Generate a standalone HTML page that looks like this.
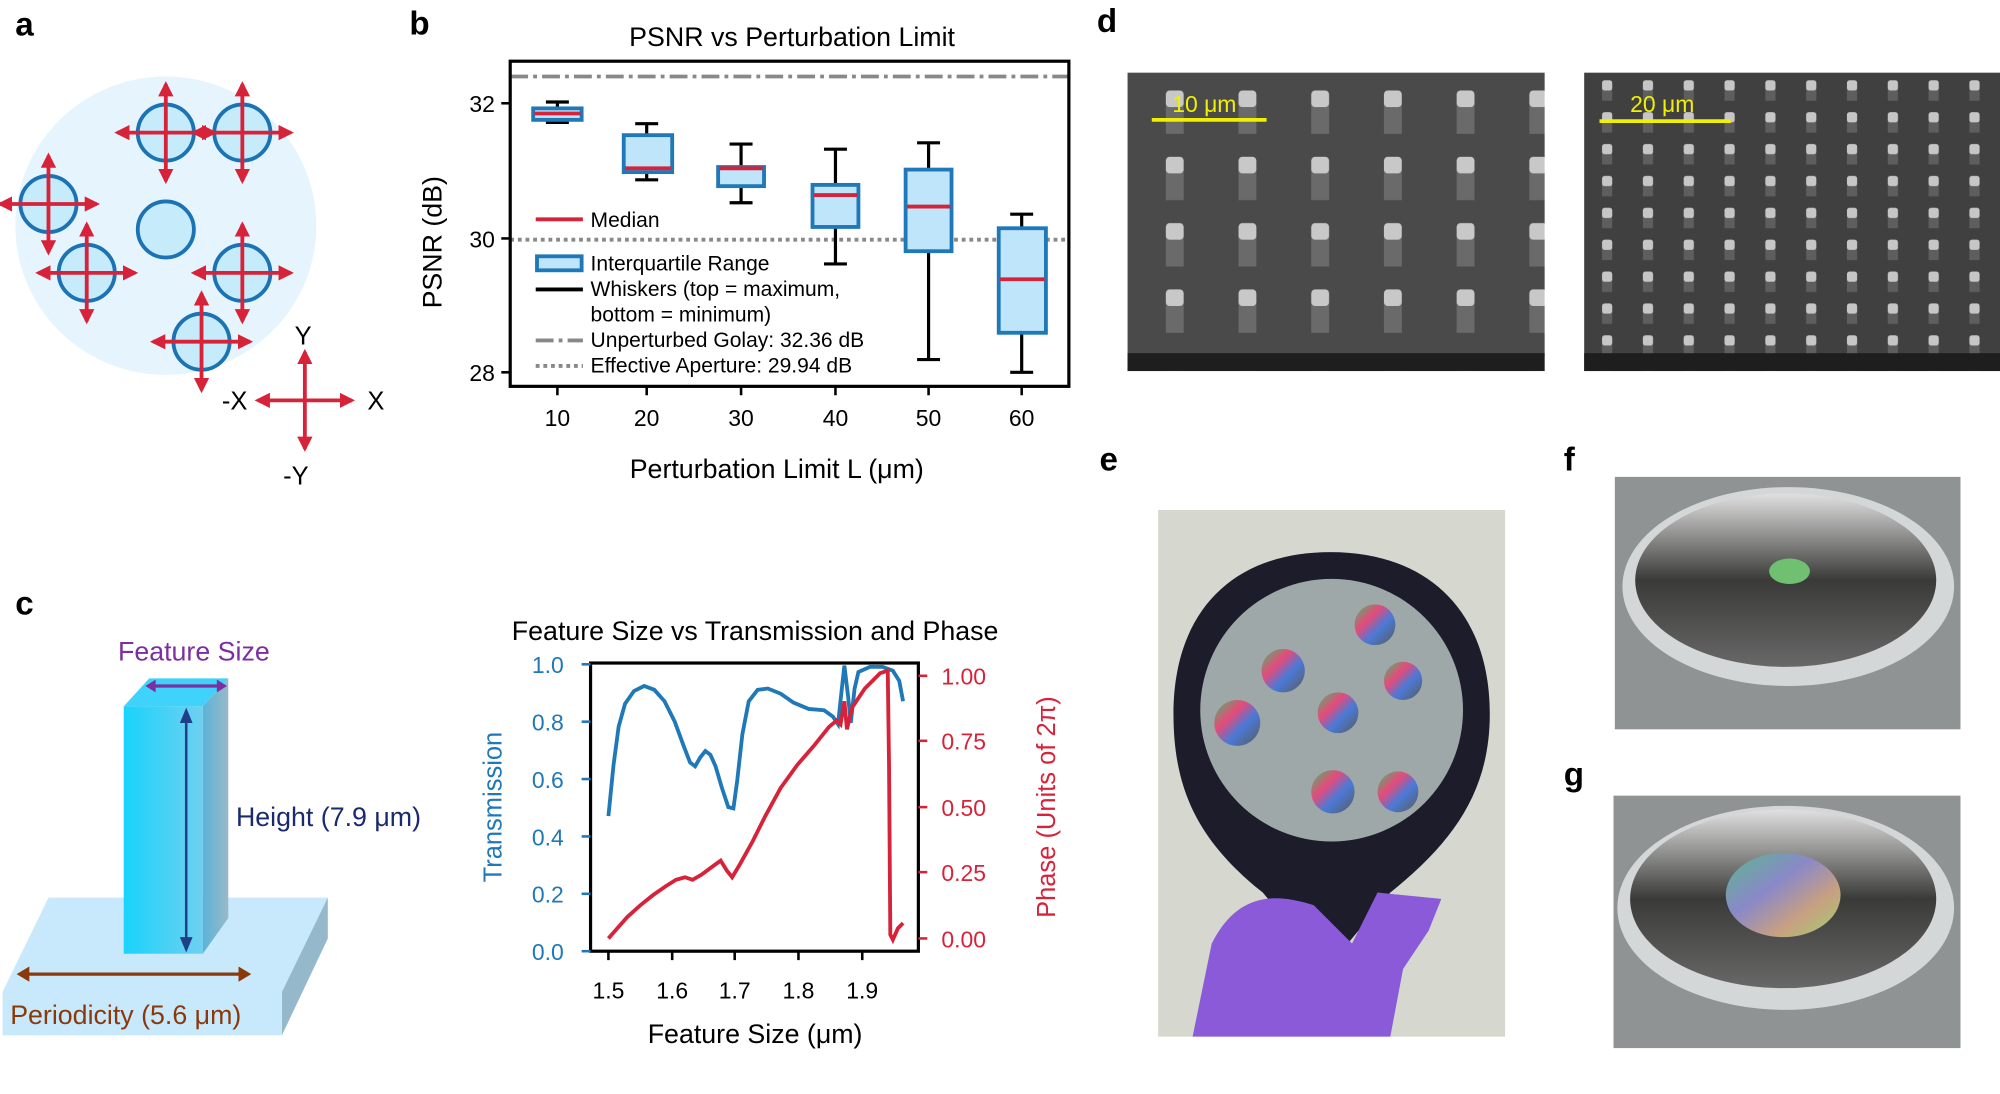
<!DOCTYPE html>
<html><head><meta charset="utf-8"><style>
html,body{margin:0;padding:0;background:#fff;}
svg{display:block;font-family:"Liberation Sans",sans-serif;}
</style></head><body>
<svg width="2000" height="1094" viewBox="0 0 1568 858" preserveAspectRatio="none" xmlns="http://www.w3.org/2000/svg">
<defs>
<linearGradient id="pil" x1="0" x2="1"><stop offset="0" stop-color="#19d3fb"/><stop offset="1" stop-color="#6fd0f0"/></linearGradient>
<linearGradient id="pilside" x1="0" x2="1"><stop offset="0" stop-color="#5ab3d8"/><stop offset="1" stop-color="#9ab9c8"/></linearGradient>
<marker id="ar" viewBox="0 0 10 10" refX="8" refY="5" markerWidth="4" markerHeight="4" orient="auto-start-reverse"><path d="M0,0L10,5L0,10z" fill="#d6233a"/></marker>
<pattern id="sem1" x="884" y="57" width="57" height="52" patternUnits="userSpaceOnUse">
<rect width="57" height="52" fill="#4a4a4a"/><rect x="30" y="24" width="14" height="24" fill="#6a6a6a"/><rect x="30" y="14" width="14" height="13" rx="3" fill="#c8c8c8"/></pattern>
<pattern id="sem2" x="1242" y="57" width="32" height="25" patternUnits="userSpaceOnUse">
<rect width="32" height="25" fill="#404040"/><rect x="14" y="12" width="8" height="10" fill="#5e5e5e"/><rect x="14" y="6" width="8" height="8" rx="2" fill="#c6c6c6"/></pattern>
<linearGradient id="rb" x1="0" x2="1" y1="0" y2="1"><stop offset="0" stop-color="#3fbf6a"/><stop offset=".35" stop-color="#e64a7a"/><stop offset=".6" stop-color="#4a7ad8"/><stop offset="1" stop-color="#5a5a5a"/></linearGradient>
<linearGradient id="rb2" x1="0" x2="1" y1="0" y2="1"><stop offset="0" stop-color="#5ab88c"/><stop offset=".4" stop-color="#8a88c8"/><stop offset=".7" stop-color="#c8a080"/><stop offset="1" stop-color="#a0d070"/></linearGradient>
<linearGradient id="wafer" x1="0" x2="0" y1="0" y2="1"><stop offset="0" stop-color="#e0e0e0"/><stop offset=".5" stop-color="#3a3a38"/><stop offset="1" stop-color="#686868"/></linearGradient>
</defs>
<rect width="1568" height="858" fill="#fff"/>
<g font-weight="bold" font-size="26" fill="#000">
<text x="12" y="28">a</text><text x="321" y="27">b</text><text x="860" y="25">d</text>
<text x="12" y="482">c</text><text x="862" y="369">e</text><text x="1226" y="369">f</text><text x="1226" y="616">g</text>
</g>
<!-- panel a -->
<ellipse cx="130" cy="177" rx="118" ry="117" fill="#e6f4fe"/>
<g stroke="#1b72b4" stroke-width="3" fill="#c6ecfb">
<circle cx="130" cy="104" r="22"/><circle cx="190" cy="104" r="22"/><circle cx="38" cy="160" r="22"/>
<circle cx="130" cy="180" r="22"/><circle cx="68" cy="214" r="22"/><circle cx="190" cy="214" r="22"/><circle cx="158" cy="268" r="22"/>
</g>
<g stroke="#d6233a" stroke-width="3" marker-start="url(#ar)" marker-end="url(#ar)">
<line x1="92" y1="104" x2="168" y2="104"/><line x1="130" y1="66" x2="130" y2="142"/>
<line x1="152" y1="104" x2="228" y2="104"/><line x1="190" y1="66" x2="190" y2="142"/>
<line x1="0" y1="160" x2="76" y2="160"/><line x1="38" y1="122" x2="38" y2="198"/>
<line x1="30" y1="214" x2="106" y2="214"/><line x1="68" y1="176" x2="68" y2="252"/>
<line x1="152" y1="214" x2="228" y2="214"/><line x1="190" y1="176" x2="190" y2="252"/>
<line x1="120" y1="268" x2="196" y2="268"/><line x1="158" y1="230" x2="158" y2="306"/>
<line x1="202" y1="314" x2="276" y2="314"/><line x1="239" y1="276" x2="239" y2="352"/>
</g>
<g font-size="20" fill="#000"><text x="231" y="270">Y</text><text x="174" y="321">-X</text><text x="288" y="321">X</text><text x="222" y="380">-Y</text></g>
<!-- panel b -->
<text x="621" y="36" font-size="21" text-anchor="middle">PSNR vs Perturbation Limit</text>
<line x1="400" y1="60" x2="838" y2="60" stroke="#888" stroke-width="3" stroke-dasharray="14,4,3,4"/>
<line x1="400" y1="188" x2="838" y2="188" stroke="#888" stroke-width="3" stroke-dasharray="3,3"/>
<g stroke="#000" stroke-width="2.5">
<line x1="437" y1="80" x2="437" y2="96"/><line x1="428" y1="80" x2="446" y2="80"/><line x1="428" y1="96" x2="446" y2="96"/>
<line x1="507" y1="97" x2="507" y2="141"/><line x1="498" y1="97" x2="516" y2="97"/><line x1="498" y1="141" x2="516" y2="141"/>
<line x1="581" y1="113" x2="581" y2="159"/><line x1="572" y1="113" x2="590" y2="113"/><line x1="572" y1="159" x2="590" y2="159"/>
<line x1="655" y1="117" x2="655" y2="207"/><line x1="646" y1="117" x2="664" y2="117"/><line x1="646" y1="207" x2="664" y2="207"/>
<line x1="728" y1="112" x2="728" y2="282"/><line x1="719" y1="112" x2="737" y2="112"/><line x1="719" y1="282" x2="737" y2="282"/>
<line x1="801" y1="168" x2="801" y2="292"/><line x1="792" y1="168" x2="810" y2="168"/><line x1="792" y1="292" x2="810" y2="292"/>
</g>
<g fill="#bfe5fa" stroke="#1f78b8" stroke-width="3">
<rect x="418" y="85" width="38" height="9"/><rect x="489" y="106" width="38" height="29"/><rect x="563" y="131" width="36" height="15"/>
<rect x="637" y="145" width="36" height="33"/><rect x="710" y="133" width="36" height="64"/><rect x="783" y="179" width="37" height="82"/>
</g>
<g stroke="#d6233a" stroke-width="3">
<line x1="419" y1="89" x2="455" y2="89"/><line x1="490" y1="132" x2="526" y2="132"/><line x1="564" y1="132" x2="598" y2="132"/>
<line x1="638" y1="153" x2="672" y2="153"/><line x1="711" y1="162" x2="745" y2="162"/><line x1="784" y1="219" x2="819" y2="219"/>
</g>
<rect x="400" y="48" width="438" height="255" fill="none" stroke="#000" stroke-width="2.5"/>
<g stroke="#000" stroke-width="2"><line x1="393" y1="81" x2="400" y2="81"/><line x1="393" y1="187" x2="400" y2="187"/><line x1="393" y1="292" x2="400" y2="292"/>
<line x1="437" y1="303" x2="437" y2="310"/><line x1="507" y1="303" x2="507" y2="310"/><line x1="581" y1="303" x2="581" y2="310"/><line x1="655" y1="303" x2="655" y2="310"/><line x1="728" y1="303" x2="728" y2="310"/><line x1="801" y1="303" x2="801" y2="310"/></g>
<g font-size="18" text-anchor="end"><text x="388" y="88">32</text><text x="388" y="194">30</text><text x="388" y="299">28</text></g>
<g font-size="18" text-anchor="middle"><text x="437" y="334">10</text><text x="507" y="334">20</text><text x="581" y="334">30</text><text x="655" y="334">40</text><text x="728" y="334">50</text><text x="801" y="334">60</text></g>
<text x="609" y="375" font-size="21" text-anchor="middle">Perturbation Limit L (μm)</text>
<text transform="translate(346,190) rotate(-90)" font-size="21" text-anchor="middle">PSNR (dB)</text>
<g font-size="16.5">
<line x1="420" y1="172" x2="457" y2="172" stroke="#d6233a" stroke-width="3"/><text x="463" y="178">Median</text>
<rect x="421" y="201" width="35" height="11" fill="#bfe5fa" stroke="#1f78b8" stroke-width="3"/><text x="463" y="212">Interquartile Range</text>
<line x1="420" y1="227" x2="457" y2="227" stroke="#000" stroke-width="3"/><text x="463" y="232">Whiskers (top = maximum,</text><text x="463" y="252">bottom = minimum)</text>
<line x1="420" y1="267" x2="457" y2="267" stroke="#888" stroke-width="3" stroke-dasharray="14,4,3,4"/><text x="463" y="272">Unperturbed Golay: 32.36 dB</text>
<line x1="420" y1="287" x2="457" y2="287" stroke="#888" stroke-width="3" stroke-dasharray="3,3"/><text x="463" y="292">Effective Aperture: 29.94 dB</text>
</g>
<!-- panel c left -->
<polygon points="2,778 38,704 257,704 221,778" fill="#c8e9fb"/>
<polygon points="221,778 257,704 257,736 221,812" fill="#95b9cb"/>
<rect x="2" y="778" width="219" height="34" fill="#c8e9fb"/>
<polygon points="97,554 117,532 179,532 159,554" fill="#3fd2fb"/>
<rect x="97" y="554" width="62" height="194" fill="url(#pil)"/>
<polygon points="159,554 179,532 179,720 159,748" fill="url(#pilside)"/>
<line x1="120" y1="538" x2="172" y2="538" stroke="#7b2fa0" stroke-width="2.5"/>
<polygon points="114,538 122,533 122,543" fill="#7b2fa0"/><polygon points="178,538 170,533 170,543" fill="#7b2fa0"/>
<line x1="146" y1="562" x2="146" y2="740" stroke="#1f3f8a" stroke-width="2"/>
<polygon points="146,555 141,567 151,567" fill="#1f3f8a"/><polygon points="146,747 141,735 151,735" fill="#1f3f8a"/>
<line x1="20" y1="764" x2="190" y2="764" stroke="#8a3a0a" stroke-width="2.5"/>
<polygon points="13,764 23,758 23,770" fill="#8a3a0a"/><polygon points="197,764 187,758 187,770" fill="#8a3a0a"/>
<text x="152" y="518" font-size="21" fill="#7b2fa0" text-anchor="middle">Feature Size</text>
<text x="185" y="648" font-size="21" fill="#1a2a6e">Height (7.9 μm)</text>
<text x="8" y="803" font-size="21" fill="#8a3a0a">Periodicity (5.6 μm)</text>
<!-- panel c right chart -->
<text x="592" y="502" font-size="21" text-anchor="middle">Feature Size vs Transmission and Phase</text>
<polyline fill="none" stroke="#1f78b8" stroke-width="3" points="477,640 481,600 485,570 490,552 497,542 505,538 513,541 521,550 529,566 536,585 541,598 545,601 549,594 553,589 557,592 561,601 566,618 571,633 575,634 578,612 582,576 587,550 594,541 602,540 612,544 622,551 634,556 646,557 653,562 657,568 660,540 662,522 665,547 667,567 670,540 673,527 682,523 692,523 700,526 705,534 708,550"/>
<polyline fill="none" stroke="#d6233a" stroke-width="3" points="477,736 484,728 492,719 502,710 512,702 522,695 530,690 537,688 543,690 550,686 558,680 565,675 570,683 574,688 580,678 590,660 600,640 612,618 625,600 638,585 650,570 656,565 659,568 662,550 664,572 668,555 678,540 690,528 696,526 697,600 698,733 700,737 704,728 708,724"/>
<rect x="463" y="520" width="257" height="226" fill="none" stroke="#000" stroke-width="2.5"/>
<g stroke="#1f78b8" stroke-width="2"><line x1="456" y1="521" x2="463" y2="521"/><line x1="456" y1="566" x2="463" y2="566"/><line x1="456" y1="611" x2="463" y2="611"/><line x1="456" y1="656" x2="463" y2="656"/><line x1="456" y1="701" x2="463" y2="701"/><line x1="456" y1="746" x2="463" y2="746"/></g>
<g fill="#1f78b8" font-size="18" text-anchor="end"><text x="442" y="528">1.0</text><text x="442" y="573">0.8</text><text x="442" y="618">0.6</text><text x="442" y="663">0.4</text><text x="442" y="708">0.2</text><text x="442" y="753">0.0</text></g>
<text transform="translate(393,633) rotate(-90)" font-size="20" fill="#1f78b8" text-anchor="middle">Transmission</text>
<g stroke="#d6233a" stroke-width="2"><line x1="720" y1="530" x2="727" y2="530"/><line x1="720" y1="581" x2="727" y2="581"/><line x1="720" y1="633" x2="727" y2="633"/><line x1="720" y1="684" x2="727" y2="684"/><line x1="720" y1="736" x2="727" y2="736"/></g>
<g fill="#d6233a" font-size="18"><text x="738" y="537">1.00</text><text x="738" y="588">0.75</text><text x="738" y="640">0.50</text><text x="738" y="691">0.25</text><text x="738" y="743">0.00</text></g>
<text transform="translate(827,633) rotate(-90)" font-size="20" fill="#d6233a" text-anchor="middle">Phase (Units of 2π)</text>
<g stroke="#000" stroke-width="2"><line x1="477" y1="746" x2="477" y2="753"/><line x1="527" y1="746" x2="527" y2="753"/><line x1="576" y1="746" x2="576" y2="753"/><line x1="626" y1="746" x2="626" y2="753"/><line x1="676" y1="746" x2="676" y2="753"/></g>
<g font-size="18" text-anchor="middle"><text x="477" y="783">1.5</text><text x="527" y="783">1.6</text><text x="576" y="783">1.7</text><text x="626" y="783">1.8</text><text x="676" y="783">1.9</text></g>
<text x="592" y="818" font-size="21" text-anchor="middle">Feature Size (μm)</text>
<!-- panel d SEM -->
<rect x="884" y="57" width="327" height="234" fill="url(#sem1)"/>
<rect x="884" y="277" width="327" height="14" fill="#1e1e1e"/>
<line x1="903" y1="94" x2="993" y2="94" stroke="#f0f000" stroke-width="3"/>
<text x="919" y="88" font-size="18" fill="#f0f000">10 μm</text>
<rect x="1242" y="57" width="326" height="234" fill="url(#sem2)"/>
<rect x="1242" y="277" width="326" height="14" fill="#1e1e1e"/>
<line x1="1254" y1="95" x2="1357" y2="95" stroke="#f0f000" stroke-width="3"/>
<text x="1278" y="88" font-size="18" fill="#f0f000">20 μm</text>
<!-- panel e -->
<rect x="908" y="400" width="272" height="413" fill="#d6d8cf"/>
<path d="M1043,433 C1120,433 1168,480 1168,560 C1168,620 1140,660 1090,700 L1040,760 L990,700 C940,660 920,620 920,560 C920,480 966,433 1043,433Z" fill="#1c1c2a"/>
<circle cx="1044" cy="557" r="103" fill="#9ea8a8"/>
<g fill="url(#rb)"><circle cx="1006" cy="526" r="17"/><circle cx="1078" cy="490" r="16"/><circle cx="1100" cy="534" r="15"/><circle cx="970" cy="567" r="18"/><circle cx="1049" cy="559" r="16"/><circle cx="1045" cy="621" r="17"/><circle cx="1096" cy="621" r="16"/></g>
<path d="M935,813 L950,740 C970,700 1000,700 1030,710 L1060,740 L1080,700 L1130,705 L1120,730 L1100,760 L1090,813Z" fill="#8a5ad8"/>
<!-- panel f -->
<rect x="1266" y="374" width="271" height="198" fill="#8f9393"/>
<ellipse cx="1402" cy="460" rx="130" ry="78" fill="#d4d7d8"/>
<ellipse cx="1400" cy="455" rx="118" ry="68" fill="url(#wafer)"/>
<ellipse cx="1403" cy="448" rx="16" ry="10" fill="#6fc070"/>
<!-- panel g -->
<rect x="1265" y="624" width="272" height="198" fill="#8f9393"/>
<ellipse cx="1400" cy="712" rx="132" ry="80" fill="#d4d7d8"/>
<ellipse cx="1398" cy="705" rx="120" ry="70" fill="url(#wafer)"/>
<ellipse cx="1398" cy="702" rx="45" ry="33" fill="url(#rb2)"/>
</svg>
</body></html>
